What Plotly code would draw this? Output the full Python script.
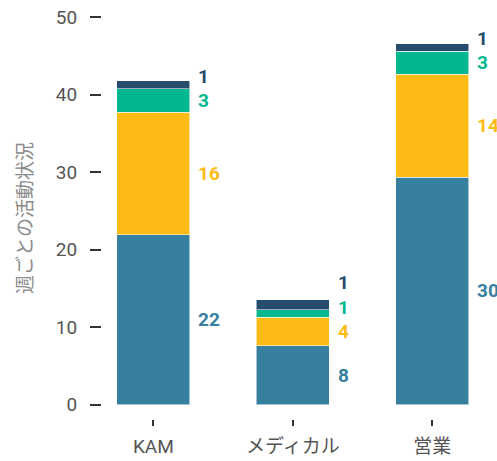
import plotly.graph_objects as go

categories = ["KAM", "メディカル", "営業"]

# bar heights
seg_blue = [21.9, 7.56, 29.3]
seg_yellow = [15.8, 3.69, 13.3]
seg_green = [3.05, 0.95, 3.0]
seg_navy = [1.03, 1.33, 0.95]

# data labels as displayed
lab_blue = ["22", "8", "30"]
lab_yellow = ["16", "4", "14"]
lab_green = ["3", "1", "3"]
lab_navy = ["1", "1", "1"]

y_ticks = [0, 10, 20, 30, 40, 50]
y_title = "週ごとの活動状況"

colors = ["#367f9f", "#fdbb16", "#03b78f", "#254b6d"]
series = [seg_blue, seg_yellow, seg_green, seg_navy]
labels = [lab_blue, lab_yellow, lab_green, lab_navy]

W, H = 497, 461
ML, MR, MT, MB = 102, 0, 17, 42
YR = [-1.87, 50]
XR = [-0.368, 2.464]
BAR_W = 0.523

fig = go.Figure()
for vals, col in zip(series, colors):
    fig.add_trace(go.Bar(
        x=categories, y=vals, width=BAR_W,
        marker=dict(color=col, line=dict(color="rgba(255,255,255,0.55)", width=1)),
        showlegend=False, hoverinfo="skip",
    ))

px_per_cat = (W - ML - MR) / (XR[1] - XR[0])
px_per_unit = (H - MT - MB) / (YR[1] - YR[0])
xshift = BAR_W / 2 * px_per_cat + 6.5
min_gap = 24.4 / px_per_unit

annotations = []
for ci, cat in enumerate(categories):
    base = 0.0
    mids = []
    for vals in series:
        mids.append(base + vals[ci] / 2)
        base += vals[ci]
    # push labels upward to avoid overlap (bottom-up)
    pos = [mids[0]]
    for k in range(1, len(mids)):
        pos.append(max(mids[k], pos[k - 1] + min_gap))
    for k in range(len(series)):
        annotations.append(dict(
            x=cat, y=pos[k], xref="x", yref="y", text=labels[k][ci],
            showarrow=False, xanchor="left", yanchor="middle", xshift=xshift,
            font=dict(family="Roboto", size=19, color=colors[k], weight="bold"),
        ))

fig.update_layout(
    width=W, height=H,
    margin=dict(l=ML, r=MR, t=MT, b=MB),
    barmode="stack",
    plot_bgcolor="white", paper_bgcolor="white",
    annotations=annotations,
    xaxis=dict(
        range=XR, showgrid=False, showline=False, zeroline=False,
        ticks="outside", ticklen=6, tickwidth=2, tickcolor="#333333",
        tickfont=dict(family="Roboto, Noto Sans CJK JP", size=19, color="#555555"),
        ticklabelstandoff=4,
    ),
    yaxis=dict(
        range=YR, tickvals=y_ticks, showgrid=False, showline=False, zeroline=False,
        ticks="outside", ticklen=11, tickwidth=2, tickcolor="#333333",
        tickfont=dict(family="Roboto", size=19, color="#555555"),
        ticklabelstandoff=9,
        title=dict(text=y_title, standoff=18,
                   font=dict(family="Noto Sans CJK JP", size=19, color="#8a8a8a")),
    ),
)

fig.write_html("out.html")
